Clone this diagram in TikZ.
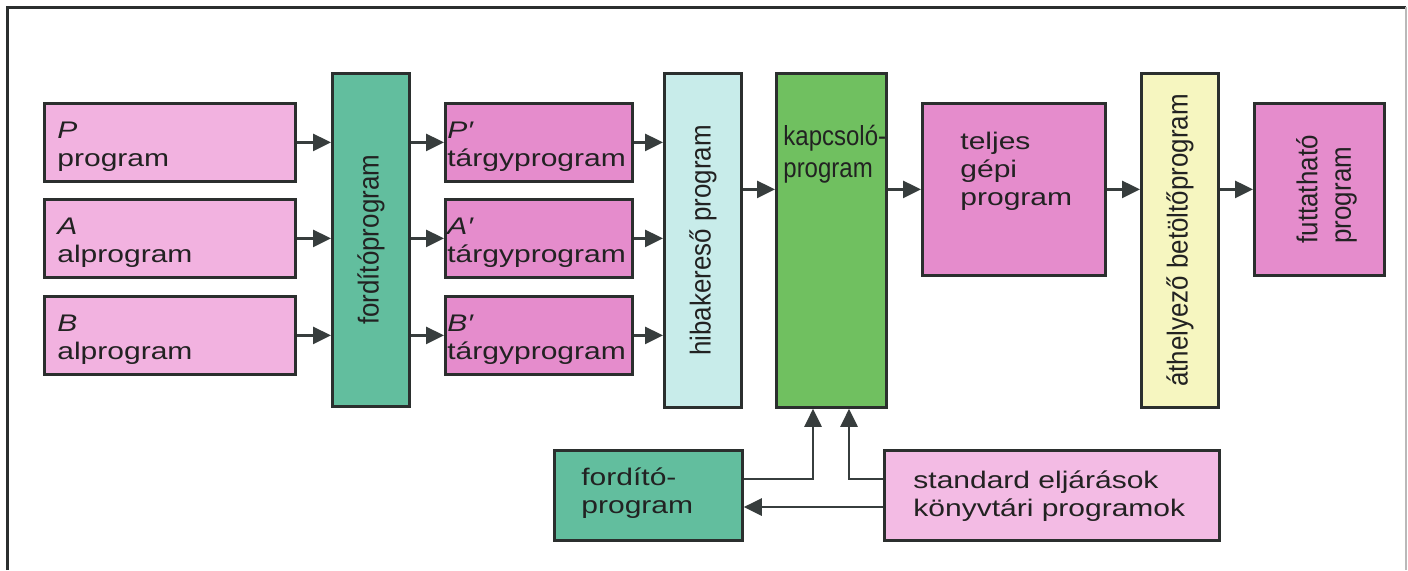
\documentclass[tikz,border=0pt]{standalone}
\usepackage{fontspec}
\setmainfont{Liberation Sans}[FakeStretch=1.25]
\newfontfamily\sidefont{Liberation Sans}
\usetikzlibrary{arrows.meta,calc}

\definecolor{edge}{HTML}{2B2F2E}
\definecolor{linec}{HTML}{373D3D}
\definecolor{ink}{HTML}{222222}
\definecolor{pinklight}{HTML}{F2B2E0}
\definecolor{pinkdeep}{HTML}{E58CCC}
\definecolor{pinkstd}{HTML}{F3BBE4}
\definecolor{tealbox}{HTML}{62BE9E}
\definecolor{cyanbox}{HTML}{C8ECEA}
\definecolor{greenbox}{HTML}{70C060}
\definecolor{yellowbox}{HTML}{F6F6C0}

% lines of box text, baseline of the node = baseline of the first line
\newcommand\boxtwo[2]{\vtop{\hbox{\strut#1}\hbox{\strut#2}}}
\newcommand\boxthree[3]{\vtop{\hbox{\strut#1}\hbox{\strut#2}\hbox{\strut#3}}}
% upright text set along the long side of the tall boxes
\newcommand\sidetext[1]{\scalebox{1.08}[1.2]{\sidefont#1}}

\tikzset{
  blk/.style={draw=edge, line width=1.4pt, inner sep=0pt, anchor=north west},
  sz/.style 2 args={minimum width=#1*0.5pt, minimum height=#2*0.5pt},
  txt/.style={anchor=base west, inner sep=0pt, text=ink},
  vtxt/.style={rotate=90, inner sep=0pt, text=ink, anchor=center},
  flow/.style={draw=linec, line width=1.4pt,
    -{Triangle[length=9pt,width=8.5pt]}},
}

\begin{document}
\begin{tikzpicture}[x=0.5pt, y=-0.5pt, font=\fontsize{12}{14}\selectfont]
\useasboundingbox (0,0) rectangle (1408,570);
\fill[white] (0,0) rectangle (1408,570);

% frame
\draw[draw=edge, line width=1.5pt] (7,570) -- (7,7) -- (1406,7);
\draw[draw=gray!55, line width=0.6pt] (1406,7) -- (1406,570);

% source programs
\node[blk, fill=pinklight, sz={251}{78}] (P) at (43,102) {};
\node[blk, fill=pinklight, sz={251}{78}] (A) at (43,198) {};
\node[blk, fill=pinklight, sz={251}{78}] (B) at (43,295) {};
\node[txt] (Pt) at ($(P.north west)+(14,36)$) {\boxtwo{\textit{P}}{program}};
\node[txt] (At) at ($(A.north west)+(14,36)$) {\boxtwo{\textit{A}}{alprogram}};
\node[txt] (Bt) at ($(B.north west)+(14,36)$) {\boxtwo{\textit{B}}{alprogram}};

% compiler
\node[blk, fill=tealbox, sz={77}{333}] (F) at (331,72) {};
\node[vtxt] (Ft) at (F.center) {\sidetext{fordítóprogram}};

% object programs
\node[blk, fill=pinkdeep, sz={187}{78}] (Pp) at (444,102) {};
\node[blk, fill=pinkdeep, sz={187}{78}] (Ap) at (444,198) {};
\node[blk, fill=pinkdeep, sz={187}{78}] (Bp) at (444,295) {};
\node[txt] (Ppt) at ($(Pp.north west)+(3,36)$) {\boxtwo{\textit{P′}}{tárgyprogram}};
\node[txt] (Apt) at ($(Ap.north west)+(3,36)$) {\boxtwo{\textit{A′}}{tárgyprogram}};
\node[txt] (Bpt) at ($(Bp.north west)+(3,36)$) {\boxtwo{\textit{B′}}{tárgyprogram}};

% debugger
\node[blk, fill=cyanbox, sz={77}{334}] (H) at (663,72) {};
\node[vtxt] (Ht) at (H.center) {\sidetext{hibakereső program}};

% linker
\node[blk, fill=greenbox, sz={110}{334}] (K) at (775,72) {};
\node[txt] (Kt) at ($(K.north west)+(8,73)$) {\scalebox{1}[1.15]{\sidefont\boxtwo{kapcsoló-}{program}}};

% complete machine program
\node[blk, fill=pinkdeep, sz={183}{172}] (T) at (921,102) {};
\node[txt] (Tt) at ($(T.north west)+(39,47)$) {\boxthree{teljes}{gépi}{program}};

% relocating loader
\node[blk, fill=yellowbox, sz={77}{334}] (R) at (1140,72) {};
\node[vtxt] (Rt) at (R.center) {\sidetext{áthelyező betöltőprogram}};

% executable program
\node[blk, fill=pinkdeep, sz={130}{172}] (X) at (1253,102) {};
\node[vtxt] (Xt) at ($(X.center)+(8,0)$) {\sidetext{\begin{tabular}{@{}l@{}}futtatható\\program\end{tabular}}};

% bottom row
\node[blk, fill=tealbox, sz={188}{90}] (C) at (553,449) {};
\node[txt] (Ct) at ($(C.north west)+(28,36)$) {\boxtwo{fordító-}{program}};
\node[blk, fill=pinkstd, sz={335}{90}] (S) at (883,449) {};
\node[txt] (St) at ($(S.north west)+(30,39)$) {\boxtwo{standard eljárások}{könyvtári programok}};

% connectors
\foreach \s in {P,A,B} {
  \draw[flow] (\s.east) -- (\s.east -| F.west);
  \draw[flow] (F.east |- \s.east) -- (\s p.west);
  \draw[flow] (\s p.east) -- (\s p.east -| H.west);
}
\draw[flow] (H.east |- T.west) -- (K.west |- T.west);
\draw[flow] (K.east |- T.west) -- (T.west);
\draw[flow] (T.east) -- (T.east -| R.west);
\draw[flow] (R.east |- X.west) -- (X.west);

\coordinate (j1) at (813,479);
\coordinate (j2) at (849,479);
\coordinate (j3) at (812,507);
\draw[flow] (C.east |- j1) -- (j1) -- (j1 |- K.south);
\draw[flow] (S.west |- j2) -- (j2) -- (j2 |- K.south);
\draw[flow] (S.west |- j3) -- (C.east |- j3);
\end{tikzpicture}
\end{document}
